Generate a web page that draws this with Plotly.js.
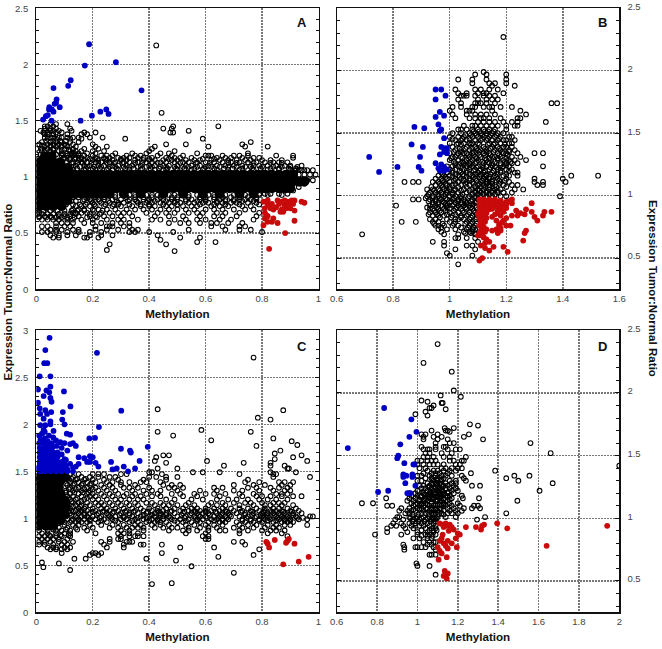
<!DOCTYPE html>
<html><head><meta charset="utf-8"><script src="https://cdn.plot.ly/plotly-3.0.1.min.js"></script>
<style>html,body{margin:0;padding:0;background:#fff}</style></head><body><div id="g" style="width:662px;height:649px"></div>
<script>
// Saturated, overplotted regions read as rows: [y,[x...]]
const aCore=[[.74,[.012,.035,.06,.09]],[.79,[.012,.035,.06,.085,.11]],
[.85,[.01,.035,.06,.085,.11,.135,.16,.185,.21,.235,.26,.31,.37,.45,.52,.59,.65,.72,.77]],
[.9,[.01,.035,.06,.085,.11,.135,.16,.185,.21,.235,.26,.285,.31,.335,.36,.385,.41,.435,.46,.485,.51,.535,.56,.585,.61,.635,.66,.685,.71,.735,.76,.785,.81,.835,.86,.885,.9]],
[.96,[.01,.035,.06,.085,.11,.135,.16,.185,.21,.235,.26,.285,.31,.335,.36,.385,.41,.435,.46,.485,.51,.535,.56,.585,.61,.635,.66,.685,.71,.735,.76,.785,.81,.835,.86,.885,.91,.935,.95]],
[1.02,[.01,.035,.06,.085,.11,.135,.16,.185,.21,.235,.26,.285,.31,.335,.36,.385,.41,.435,.46,.485,.51,.535,.56,.585,.61,.635,.66,.685,.71,.735,.76,.785,.81,.835,.86,.885,.91]],
[1.08,[.01,.035,.06,.085,.11]],[1.13,[.01,.035,.06,.085]],[1.18,[.03,.055]]];
const aOpen=[[2.17,[.425]],[1.57,[.444]],[1.47,[.05,.07,.11]],[1.45,[.03,.04,.06,.485,.645]],[1.43,[.03,.05,.07,.12,.45,.48]],[1.41,[.015,.03,.05,.06,.08,.125,.54]],[1.395,[.025,.04,.07,.09,.17,.21,.475,.485]],[1.38,[.03,.045,.06,.11,.16,.18]],[1.35,[.03,.05,.06,.08,.09,.11,.13,.15,.19,.235]],[1.34,[.04,.07,.12,.16,.315,.59]],[1.31,[.02,.05,.07,.09,.12,.15,.76]],[1.29,[.01,.04,.06,.08,.1,.13,.2,.46,.53,.73]],[1.27,[.03,.05,.07,.09,.11,.14,.21,.25,.42,.61,.74,.82]],[1.25,[.0,.02,.04,.06,.1,.13,.17,.22,.41]],[1.23,[.02,.05,.08,.12,.14,.16,.2,.24,.4,.49]],[1.21,[.06,.09,.11,.13,.15,.18,.21,.28,.34,.39,.44,.47,.57,.75]],[1.19,[.09,.11,.13,.15,.17,.2,.23,.25,.27,.32,.35,.37,.43,.48,.52,.6,.61,.62,.66,.7,.72,.75,.85,.91]],[1.17,[.1,.12,.14,.16,.18,.21,.24,.26,.29,.31,.33,.36,.38,.41,.46,.49,.51,.55,.64,.67,.69,.73,.77,.79,.91]],[1.15,[.12,.15,.17,.2,.22,.25,.27,.3,.32,.35,.38,.4,.42,.45,.48,.5,.53,.56,.58,.62,.65,.68,.71,.74,.76,.8,.83,.87]],[1.13,[.13,.16,.18,.21,.23,.26,.28,.31,.33,.36,.39,.41,.44,.46,.49,.52,.54,.57,.6,.63,.66,.69,.72,.75,.78,.81,.84,.86,.89]],[1.1,[.14,.17,.19,.22,.24,.27,.29,.32,.34,.37,.4,.42,.45,.47,.5,.53,.55,.58,.61,.64,.67,.7,.73,.77,.79,.82,.85,.88,.9,.94]],[1.06,[.92,.94,.95,.96,.98]],[1.02,[.93,.95,.97,.99]],[.97,[.96,.98]],[.94,[.93,.95]],[.91,[.9,.93]],[.88,[.88,.91]],[.85,[.79,.81,.83,.86,.89]],[.8,[.17,.19,.22,.24,.27,.3,.33,.35,.38,.4,.43,.45,.48,.5,.53,.55,.58,.6,.63,.65,.67,.7,.72,.74,.76,.78]],[.77,[.18,.2,.23,.26,.29,.31,.36,.39,.41,.44,.47,.49,.51,.54,.56,.59,.61,.64,.66,.69,.71,.75,.78]],[.74,[.14,.16,.19,.21,.24,.27,.3,.34,.37,.4,.42,.46,.48,.52,.55,.57,.62,.65,.68,.73,.76]],[.71,[.13,.15,.17,.2,.22,.25,.28,.32,.35,.38,.41,.44,.47,.5,.53,.56,.6,.63,.66,.7,.74,.77]],[.68,[.01,.13,.14,.16,.18,.23,.26,.29,.31,.33,.39,.43,.46,.49,.54,.57,.59,.64,.67,.72,.79]],[.65,[.01,.03,.05,.08,.1,.12,.15,.19,.21,.24,.27,.3,.34,.42,.47,.52,.58,.63,.66,.71,.78]],[.62,[.02,.04,.06,.08,.11,.13,.16,.2,.25,.29,.31,.36,.41,.44,.49,.53,.57,.6,.65,.69,.77]],[.59,[.07,.09,.11,.13,.17,.2,.23,.27,.3,.33,.47,.51,.54,.58,.62,.64,.68,.73]],[.56,[.02,.04,.07,.1,.12,.21,.25,.26,.27,.31,.33,.62,.66,.72,.74]],[.53,[.05,.07,.09,.13,.15,.21,.25,.29,.34,.36,.54,.67,.72,.76]],[.51,[.02,.04,.07,.11,.15,.19,.23,.33,.35,.4,.485,.8]],[.48,[.05,.08,.11,.14,.19,.23,.27,.43]],[.46,[.06,.08,.17,.18,.22,.51,.58]],[.44,[.44]],[.42,[.57,.635]],[.4,[.26,.46]],[.35,[.25]],[.34,[.49]]];
const aExtra=[[1.32,[.035,.06,.085,.105]],[1.28,[.02,.05,.075,.105]],[1.24,[.03,.06,.09,.115,.13]],[1.2,[0,.015,.045,.07,.095,.12,.14]],[1.16,[.005,.095,.12,.135,.155,.19,.215,.245,.3,.4,.47,.59,.63]],[1.125,[.105,.125,.145,.165,.195,.22,.25,.275,.305,.35,.375,.43,.51,.565,.615,.68,.71,.77,.83,.87]],[1.09,[.13,.155,.18,.205,.23,.26,.28,.31,.33,.36,.39,.41,.44,.46,.49,.52,.54,.57,.6,.62,.65,.68,.71,.74,.76,.8,.84,.87,.9,.925]],[1.075,[.12,.145,.175,.2,.225,.255,.285,.315,.345,.375,.405,.435,.465,.495,.525,.56,.595,.63,.665,.695,.73,.765,.795,.83,.86,.895,.92]],[1.065,[.13,.17,.21,.25,.29,.33,.37,.42,.46,.5,.55,.59,.64,.68,.72,.77,.82,.86,.9,.93]],[.84,[.28,.33,.35,.39,.41,.43,.47,.49,.54,.57,.61,.63,.67,.7,.74,.79,.82,.87]],[.82,[.13,.15,.18,.21,.24,.28,.32,.35,.38,.41,.44,.48,.5,.54,.58,.6,.63,.66,.69,.72,.75,.78]],[.785,[.125,.14,.165,.195,.225,.255,.285,.325,.355,.395,.42,.46,.49,.53,.57,.6,.64,.67,.7,.73,.77]],[.755,[.105,.13,.155,.175,.205,.245,.275,.29,.33,.37,.4,.45,.5,.58,.63,.67,.72,.79]],[.7,[.005,.025,.05,.075,.1,.125,.145,.17,.205,.235]],[.67,[.005,.02,.04,.06,.08,.1,.12,.14,.19,.225]],[.64,[.01,.035,.055,.07,.09,.11,.135,.18,.215]]];
const aBlue=[[.024,1.51],[.034,1.54],[.041,1.55],[.046,1.62],[.045,1.6],[.055,1.6],[.061,1.58],[.054,1.5],[.065,1.65],[.072,1.69],[.07,1.66],[.061,1.79],[.083,1.62],[.113,1.81],[.122,1.86],[.172,1.99],[.187,2.18],[.157,1.5],[.197,1.545],[.227,1.58],[.248,1.6],[.256,1.56],[.282,2.02],[.373,1.77]];
const aRed=[[.805,.57],[.81,.63],[.815,.66],[.82,.6],[.825,.36],[.882,.5],[.84,.63],[.835,.6],[.855,.59],[.81,.72],[.82,.75],[.805,.78],[.82,.79],[.835,.76],[.84,.71],[.85,.73],[.855,.79],[.86,.76],[.87,.71],[.875,.69],[.88,.75],[.885,.72],[.89,.78],[.895,.75],[.9,.72],[.905,.79],[.91,.76],[.915,.7],[.915,.79],[.915,.61],[.94,.78],[.95,.77],[.87,.78],[.88,.79],[.83,.72],[.865,.69],[.82,.65],[.81,.68]];

const bOpen=[[2.27,[1.19]],[1.99,[1.12]],[1.97,[1.09,1.13,1.2]],[1.93,[1.03,1.08,1.13,1.2]],[1.9,[1.08,1.14,1.16,1.2]],[1.88,[1.15,1.23]],[1.85,[1.02,1.09,1.11,1.14,1.17]],[1.82,[1.03,1.06,1.1,1.12,1.13,1.19]],[1.8,[1.04,1.05,1.06,1.09,1.12,1.14,1.16]],[1.77,[1.03,1.1,1.13,1.15,1.17]],[1.74,[1.04,1.09,1.1,1.11,1.13,1.16,1.36,1.38]],[1.71,[1.01,1.04,1.08,1.09,1.12,1.14,1.15,1.18,1.22]],[1.68,[1,1.06,1.07,1.08,1.15,1.25]],[1.65,[1.01,1.06,1.09,1.11,1.13,1.16,1.27]],[1.62,[1.02,1.07,1.09,1.11,1.12,1.14,1.18,1.24,1.25]],[1.59,[1.1,1.12,1.14,1.16,1.19,1.22,1.24,1.34]],[1.56,[1.05,1.08,1.09,1.11,1.13,1.15,1.17,1.2,1.23,1.24]],[1.53,[1.03,1.04,1.06,1.08,1.1,1.12,1.14,1.16,1.2]],[1.5,[1.01,1.04,1.07,1.09,1.11,1.13,1.15,1.17,1.19]],[1.47,[1,1.03,1.05,1.08,1.1,1.12,1.14,1.16,1.18,1.21,1.22]],[1.445,[1.02,1.04,1.06,1.09,1.11,1.13,1.15,1.17,1.19,1.2,1.23]],[1.42,[1,1.03,1.05,1.07,1.08,1.1,1.14,1.16,1.18,1.21,1.22]],[1.39,[1.01,1.06,1.09,1.12,1.15,1.17,1.19,1.2,1.22]],[1.365,[1.02,1.04,1.07,1.1,1.11,1.13,1.16,1.18,1.21,1.23]],[1.34,[1,1.03,1.05,1.06,1.08,1.12,1.14,1.17,1.19,1.2,1.24,1.3,1.33]],[1.31,[1.01,1.02,1.04,1.07,1.09,1.11,1.15,1.16,1.18,1.22,1.25]],[1.285,[1,1.03,1.06,1.08,1.1,1.13,1.17,1.19,1.21,1.23,1.27]],[1.26,[1.02,1.04,1.05,1.07,1.09,1.12,1.14,1.15,1.18,1.2,1.22,1.24]],[1.235,[.99,1.01,1.03,1.06,1.08,1.1,1.13,1.16,1.19,1.21,1.33]],[1.21,[.98,1,1.02,1.05,1.07,1.09,1.11,1.14,1.17,1.2,1.22]],[1.185,[.97,.99,1.01,1.04,1.06,1.1,1.12,1.15,1.18,1.23,1.24]],[1.16,[.96,.98,1,1.03,1.05,1.08,1.11,1.13,1.16,1.19,1.21,1.24,1.43,1.525]],[1.135,[.95,.97,.99,1.02,1.04,1.07,1.09,1.12,1.14,1.17,1.2,1.3,1.4]],[1.11,[.84,.87,.89,.94,.96,.98,1,1.03,1.06,1.08,1.11,1.13,1.15,1.18,1.21,1.3,1.33,1.41]],[1.085,[.95,.97,.99,1.01,1.04,1.07,1.1,1.12,1.14,1.16,1.19,1.22,1.24,1.31,1.33]],[1.05,[.92,.94,.96,.98,1,1.02,1.05,1.08,1.1,1.12,1.14,1.16,1.18,1.23,1.26]],[1.025,[.93,.95,.97,.99,1.01,1.03,1.06,1.09,1.11,1.13,1.15,1.17,1.19,1.22]],[.995,[.92,.94,.96,.98,1,1.02,1.04,1.07,1.09,1.11,1.13,1.15,1.18,1.2,1.39]],[.97,[.87,.89,.93,.95,.97,.99,1.01,1.03,1.05,1.08,1.1]],[.945,[.94,.96,.98,1,1.02,1.04,1.06,1.09]],[.92,[.81,.93,.95,.97,.99,1.01,1.03,1.05,1.07,1.09]],[.895,[.93,.94,.96,.98,1,1.02,1.04,1.06,1.08]],[.865,[.93,.95,.97,1,1.03,1.05,1.07,1.09]],[.84,[.94,.96,.98,1.01,1.04,1.06,1.08]],[.81,[.93,.95,.99,1.02,1.03,1.05,1.07,1.09]],[.79,[.83,.88,.94,.96,1,1.02,1.06,1.08]],[.76,[.95,.96,.98,1.01,1.03,1.07,1.09]],[.73,[.96,.99,1.02,1.06,1.08,1.09]],[.71,[.97,1.05,1.07,1.08]],[.69,[.69,.98,1.03,1.09]],[.66,[1.02,1.03,1.06,1.09]],[.63,[.94,.98,1.1]],[.6,[.98,1.06,1.08]],[.57,[1.02,1.09]],[.54,[.99]],[.52,[1,1.08]],[.45,[1.03]]];
const bExtra=[[1.515,[1.085,1.105,1.125,1.135,1.155]],[1.485,[1.055,1.075,1.095,1.115,1.145,1.165]],[1.455,[1.01,1.045,1.07,1.115,1.135,1.175]],[1.41,[1.025,1.04,1.075,1.105,1.135,1.155,1.195]],[1.375,[1.035,1.055,1.08,1.095,1.125,1.145,1.175]],[1.35,[1.015,1.04,1.085,1.105,1.13,1.155,1.185,1.21]],[1.325,[1.025,1.065,1.085,1.105,1.125,1.145,1.175,1.205]],[1.3,[1.005,1.045,1.065,1.095,1.125,1.14,1.17,1.2]],[1.27,[1.015,1.045,1.075,1.095,1.115,1.135,1.16,1.195,1.215]],[1.245,[1.02,1.05,1.07,1.115,1.15,1.18,1.2]],[1.225,[1.04,1.075,1.095,1.12,1.145,1.165,1.185]],[1.2,[1.01,1.035,1.06,1.085,1.105,1.125,1.155,1.18,1.21]],[1.17,[.975,1.02,1.045,1.07,1.09,1.11,1.13,1.145,1.17,1.2]],[1.15,[.985,1.01,1.035,1.06,1.085,1.105,1.125,1.14,1.165]],[1.12,[.975,1.015,1.05,1.07,1.095,1.115,1.13,1.15,1.175,1.195]],[1.095,[.965,.985,1.02,1.055,1.085,1.105,1.13,1.15,1.175]],[1.07,[.935,.975,1,1.03,1.06,1.09,1.11,1.125,1.14,1.165,1.2]],[1.04,[.945,.965,.99,1.015,1.04,1.07,1.09,1.105,1.13,1.15,1.17]],[1.01,[.925,.96,.985,1.01,1.045,1.08,1.1,1.12,1.14,1.16]],[.98,[.915,.94,.965,.985,1.015,1.04,1.065,1.09]],[.955,[.925,.95,.975,1.005,1.03,1.055,1.075,1.095]],[.93,[.94,.96,.985,1.015,1.04,1.06,1.08]],[.905,[.92,.955,.99,1.025,1.055,1.075,1.095]],[.88,[.945,.965,.985,1.015,1.045,1.085]],[.85,[.925,.955,.99,1.02,1.065,1.095]],[.825,[.965,1.005,1.04,1.075,1.095]],[.775,[.945,.975,1.015,1.055,1.075,1.095]],[.745,[.97,1.04,1.065,1.085]],[.7,[1.055,1.075,1.09]]];
const bBlue=[[.95,1.85],[.97,1.85],[.985,1.8],[.95,1.77],[.965,1.67],[.95,1.63],[.98,1.64],[.96,1.57],[.965,1.52],[.97,1.53],[.875,1.55],[.91,1.54],[.98,1.46],[.865,1.41],[.905,1.39],[.97,1.39],[.98,1.38],[.99,1.38],[.965,1.33],[.98,1.35],[.99,1.34],[.715,1.31],[.895,1.31],[.95,1.26],[.97,1.25],[.98,1.23],[.96,1.22],[.99,1.21],[.815,1.23],[.89,1.23],[.9,1.2],[.75,1.19],[.965,1.2],[.98,1.2]];
const bRed=[[1.105,.97],[1.12,.97],[1.14,.97],[1.16,.97],[1.18,.96],[1.2,.95],[1.22,.97],[1.105,.94],[1.12,.94],[1.14,.95],[1.16,.94],[1.18,.92],[1.2,.93],[1.22,.94],[1.105,.91],[1.12,.91],[1.14,.92],[1.16,.91],[1.18,.89],[1.2,.9],[1.105,.88],[1.12,.88],[1.14,.89],[1.17,.86],[1.19,.87],[1.1,.85],[1.115,.85],[1.13,.86],[1.18,.84],[1.2,.82],[1.105,.82],[1.12,.82],[1.15,.83],[1.165,.8],[1.19,.8],[1.215,.76],[1.11,.79],[1.125,.79],[1.175,.77],[1.2,.76],[1.105,.76],[1.12,.75],[1.165,.73],[1.18,.72],[1.11,.72],[1.125,.71],[1.15,.72],[1.17,.7],[1.1,.68],[1.115,.68],[1.13,.65],[1.125,.62],[1.14,.63],[1.11,.6],[1.125,.58],[1.14,.56],[1.155,.59],[1.19,.59],[1.205,.55],[1.115,.5],[1.105,.48],[1.22,.84],[1.235,.88],[1.24,.84],[1.25,.86],[1.265,.85],[1.27,.89],[1.29,.87],[1.29,.94],[1.3,.83],[1.31,.8],[1.33,.84],[1.335,.87],[1.36,.87],[1.27,.72],[1.265,.7],[1.26,.64],
[1.11,.955],[1.13,.955],[1.15,.955],[1.17,.945],[1.19,.935],[1.21,.955],[1.11,.925],[1.13,.935],[1.15,.93],[1.17,.915],[1.19,.91],[1.11,.895],[1.13,.9],[1.15,.895],[1.17,.88],[1.105,.865],[1.125,.87],[1.11,.835],[1.125,.84],[1.16,.85],[1.11,.805],[1.13,.82],[1.185,.785],[1.115,.775],[1.13,.73],[1.175,.755],[1.105,.7],[1.12,.665],[1.18,.74]];

const cCore=[[.92,[.01,.035,.06]],[.98,[.01,.035,.06,.085]],[1.05,[.01,.035,.06,.085,.1]],[1.12,[.01,.035,.06,.085,.105]],[1.19,[.01,.035,.06,.085,.1]],[1.26,[.01,.035,.06,.085]],[1.33,[.01,.035,.06,.08]],[1.4,[.01,.035,.06,.085]],[1.44,[.01,.035,.06,.085,.1]]];
const cOpen=[[2.71,[.77]],[2.16,[.43]],[2.15,[.875]],[2.07,[.785]],[2.05,[.83]],[1.94,[.585]],[1.92,[.43,.76]],[1.88,[.485]],[1.85,[.84]],[1.83,[.62]],[1.82,[.905]],[1.78,[.925]],[1.77,[.78]],[1.72,[.865]],[1.69,[.845]],[1.67,[.47,.45,.94]],[1.65,[.425,.91]],[1.63,[.845]],[1.61,[.42,.605,.96]],[1.59,[.735,.46,.83]],[1.56,[.665,.83,.88]],[1.53,[.5,.43,.89,.895]],[1.49,[.555,.59,.65,.83,.92,.4,.41]],[1.47,[.12,.15,.2,.22,.24,.3,.32,.445,.72,.85,.84]],[1.44,[.11,.13,.16,.19,.22,.26,.28,.4,.425,.46,.5,.97,.84]],[1.41,[.115,.14,.17,.2,.24,.29,.38,.46,.75]],[1.385,[.12,.15,.18,.21,.25,.27,.3,.33,.37,.39,.44,.74,.79,.86,.88,.91]],[1.355,[.11,.13,.16,.19,.23,.26,.3,.35,.45,.48,.51,.7,.77,.81,.87,.9]],[1.325,[.12,.15,.18,.21,.24,.27,.31,.33,.36,.4,.47,.49,.52,.63,.66,.75,.78,.83,.86,.89]],[1.295,[.105,.13,.16,.19,.22,.25,.28,.34,.38,.41,.44,.5,.58,.64,.7,.73,.79,.84,.88,.9]],[1.26,[.12,.15,.18,.2,.23,.26,.29,.32,.35,.39,.43,.48,.51,.56,.6,.63,.67,.72,.77,.85,.87,.89]],[1.235,[.11,.13,.16,.19,.21,.24,.27,.31,.34,.37,.41,.44,.52,.57,.65,.73,.78,.8,.83,.87,.91,.94]],[1.2,[.12,.14,.17,.2,.22,.25,.28,.3,.33,.36,.38,.46,.49,.55,.59,.64,.68,.71,.75,.79,.82,.85,.89]],[1.165,[.11,.13,.15,.18,.21,.23,.26,.29,.32,.35,.39,.41,.44,.48,.54,.62,.66,.7,.74,.76,.8,.84,.86,.88]],[1.14,[.14,.16,.19,.22,.24,.27,.3,.33,.36,.42,.45,.47,.5,.53,.56,.61,.64,.67,.72,.77,.81,.83,.87,.91]],[1.105,[.12,.15,.17,.2,.23,.25,.28,.31,.34,.37,.4,.43,.46,.49,.52,.55,.57,.6,.63,.66,.69,.72,.75,.78,.81,.84,.86,.89,.92]],[1.08,[.115,.14,.16,.18,.21,.24,.26,.29,.32,.35,.38,.41,.43,.45,.48,.51,.54,.56,.58,.6,.62,.65,.67,.7,.73,.76,.79,.81,.83,.85,.87,.9,.93]],[1.055,[.12,.15,.17,.19,.22,.25,.27,.3,.33,.36,.39,.42,.44,.46,.49,.52,.55,.57,.59,.61,.64,.66,.68,.71,.74,.77,.8,.82,.84,.86,.88,.91,.94]],[1.02,[.105,.14,.16,.18,.2,.23,.26,.28,.31,.34,.37,.4,.42,.45,.47,.5,.53,.56,.58,.6,.63,.65,.67,.69,.72,.75,.78,.8,.82,.85,.87,.89,.92,.97,.98]],[.99,[.11,.13,.15,.17,.19,.21,.24,.27,.3,.32,.35,.38,.41,.43,.45,.48,.51,.54,.57,.59,.62,.64,.66,.68,.73,.76,.79,.81,.83,.86,.88,.9,.93,.96]],[.96,[.1,.12,.14,.16,.18,.22,.25,.29,.33,.36,.39,.42,.44,.46,.5,.52,.55,.58,.61,.65,.67,.71,.74,.77,.8,.84,.87,.89,.91]],[.93,[.1,.13,.15,.19,.23,.27,.31,.35,.37,.41,.44,.47,.53,.56,.6,.63,.66,.72,.75,.78,.82,.85,.88,.9,.96]],[.9,[.08,.11,.14,.17,.2,.26,.29,.32,.34,.36,.38,.42,.45,.48,.5,.54,.58,.61,.64,.7,.73,.77,.81,.84,.86]],[.87,[.01,.04,.07,.09,.12,.18,.3,.33,.38,.47,.52,.54,.57,.61,.65,.67,.72,.75,.8,.83,.85,.88]],[.84,[.02,.04,.07,.1,.12,.21,.29,.31,.33,.36,.53,.6,.72,.82,.87]],[.81,[.01,.03,.05,.07,.09,.12,.3,.33,.35,.36,.38,.59,.61,.89]],[.78,[.02,.04,.06,.08,.11,.3,.29,.6,.61,.26]],[.75,[.01,.03,.05,.08,.1,.13,.23,.26,.32,.33,.34,.7,.73]],[.72,[.01,.03,.06,.09,.11,.31,.37,.38,.445,.74,.24]],[.69,[.04,.06,.07,.1,.12,.25,.31,.51,.63]],[.67,[.05,.07,.09,.11,.79]],[.63,[.09,.2,.21,.23,.445]],[.61,[.19,.22,.77]],[.59,[.645]],[.57,[.135,.175,.39]],[.55,[.495]],[.53,[.02]],[.52,[.08]],[.49,[.55]],[.48,[.025]],[.45,[.12]],[.42,[.7]],[.31,[.48]],[.3,[.41]]];
const cExtra=[[1.42,[.125,.145,.175]],[1.37,[.105,.135,.165,.195]],[1.31,[.115,.14,.17,.2]],[1.275,[.105,.135,.165,.185]],[1.215,[.115,.145,.18]],[1.18,[.125,.16]],[1.125,[.13,.155,.175]],[1.07,[.13,.155,.2,.235,.275,.315,.345,.395,.435,.475,.525,.565,.6,.635,.675,.725,.765,.805,.835,.875,.905]],[1.035,[.125,.17,.215,.255,.295,.33,.38,.41,.44,.46,.515,.545,.575,.615,.655,.685,.74,.765,.795,.815,.845,.865,.885,.91]],[1.005,[.145,.185,.225,.265,.31,.36,.39,.435,.475,.525,.565,.605,.645,.675,.745,.775,.805,.825,.855,.875,.895,.925,.945]],[.975,[.125,.15,.19,.23,.28,.34,.4,.43,.49,.53,.57,.63,.66,.73,.76,.79,.82,.85,.88,.9]],[.88,[.06,.105,.145]],[.82,[.045,.085,.115]]];
const cBlue=[[.047,2.92],[.032,2.79],[.028,2.65],[.039,2.65],[.012,2.51],[.05,2.51],[.215,2.76],[.006,2.37],[.05,2.4],[.098,2.35],[.026,2.3],[.036,2.36],[.046,2.34],[.05,2.28],[.054,2.24],[.006,2.23],[.012,2.17],[.121,2.19],[.094,2.13],[.053,2.13],[.301,2.145],[.014,2.11],[.032,2.15],[.038,2.11],[.026,2.06],[.05,2.03],[.092,2.05],[.1,2],[.014,1.99],[.222,1.97],[.032,1.99],[.05,2],[.061,1.93],[.026,1.94],[.108,1.9],[.12,1.89],[.188,1.85],[.208,1.855],[.13,1.8],[.14,1.77],[.12,1.79],[.1,1.8],[.09,1.75],[.11,1.72],[.3,1.74],[.332,1.72],[.335,1.7],[.395,1.76],[.366,1.61],[.15,1.65],[.17,1.64],[.19,1.66],[.2,1.65],[.19,1.6],[.21,1.59],[.22,1.55],[.265,1.6],[.27,1.52],[.285,1.53],[.31,1.55],[.35,1.53],[.325,1.5],[.14,1.55],[.15,1.58],[.18,1.6],[.13,1.5],[.12,1.58],[.13,1.54],[.01,1.88],[.02,1.9],[.03,1.92],[.015,1.84],[.03,1.85],[.045,1.88],[.06,1.86],[.01,1.8],[.025,1.8],[.04,1.82],[.055,1.8],[.07,1.83],[.085,1.81],[.012,1.75],[.027,1.76],[.042,1.77],[.058,1.76],[.072,1.77],[.012,1.7],[.027,1.71],[.042,1.72],[.058,1.71],[.075,1.7],[.09,1.68],[.012,1.65],[.027,1.66],[.042,1.67],[.058,1.66],[.075,1.65],[.1,1.63],[.012,1.6],[.027,1.61],[.042,1.62],[.058,1.61],[.075,1.6],[.09,1.6],[.105,1.62],[.012,1.56],[.027,1.56],[.042,1.57],[.058,1.56],[.075,1.56],[.09,1.56],[.105,1.56],[.003,1.53],[.018,1.52],[.034,1.52],[.05,1.52],[.065,1.52],[.08,1.52],[.095,1.52],[.11,1.52],
[.02,1.63],[.035,1.64],[.05,1.645],[.066,1.63],[.02,1.58],[.035,1.585],[.05,1.59],[.066,1.585],[.02,1.68],[.035,1.69],[.05,1.695],[.066,1.68],[.02,1.73],[.035,1.74],[.05,1.745],[.02,1.54],[.035,1.545],[.05,1.54],[.066,1.54],[.082,1.58],[.082,1.54],[.098,1.58],[.012,1.5],[.03,1.5],[.05,1.5],[.07,1.5],[.09,1.5],[.11,1.5]];
const cRed=[[.815,.75],[.82,.73],[.825,.69],[.845,.77],[.885,.74],[.89,.76],[.895,.78],[.915,.73],[.875,.51],[.93,.54],[.965,.59]];

const dOpen=[[2.39,[1.1]],[2.24,[1.03]],[2.17,[1.17]],[2.02,[1.18]],[1.98,[1.115]],[1.97,[1.215]],[1.94,[1.02]],[1.93,[1.05]],[1.92,[1.12,1.125]],[1.9,[1.08]],[1.88,[1.06,1.07]],[1.87,[1.14]],[1.85,[1.04]],[1.83,[.99]],[1.82,[1.05]],[1.75,[1.26]],[1.74,[1.3]],[1.72,[1.135,1.18]],[1.7,[1.07,1.14,1.15]],[1.69,[1.16]],[1.67,[1.02,1.04,1.255,1.1]],[1.65,[1.03,1.23,1.12,1.08]],[1.63,[1.325,1.03,1.1,1.15]],[1.6,[1.56,1.09,1.16,1.18]],[1.57,[1.02,1.09,1.13,1.14]],[1.55,[1.03,1.05,1.06,1.09,1.15,1.19,1.21]],[1.52,[1.04,1.06,1.66,1.12,1.17]],[1.49,[1.03,1.05,1.08,1.13,1.16,1.24]],[1.46,[1,1.02,1.05,1.07,1.09,1.16,1.18,1.22,1.23]],[1.43,[1,1.03,1.06,1.08,1.1,1.13,1.19,1.21]],[1.42,[2]],[1.4,[1.01,1.04,1.12,1.14,1.17,1.2,1.22]],[1.38,[1.385,1.05,1.08,1.1,1.13,1.16,1.19]],[1.36,[1.265,1.03,1.07,1.09,1.11,1.15]],[1.34,[1,1.02,1.06,1.09,1.12,1.14,1.17,1.48,1.555,1.22]],[1.32,[1.04,1.07,1.1,1.13,1.23,1.44]],[1.3,[1,1.02,1.08,1.1,1.12,1.16,1.19,1.24,1.5]],[1.28,[1.05,1.07,1.09,1.11,1.14,1.17,1.19,1.67]],[1.26,[1.01,1.03,1.06,1.1,1.13,1.15,1.18,1.27,1.31]],[1.24,[1.02,1.04,1.07,1.09,1.11,1.14,1.16,1.19]],[1.22,[1,1.05,1.08,1.1,1.12,1.17,1.605,1.2]],[1.2,[.96,.99,1.03,1.06,1.09,1.11,1.13,1.15,1.18]],[1.18,[.97,1,1.02,1.05,1.07,1.1,1.12,1.14,1.16,1.22]],[1.16,[.845,.96,.99,1.04,1.06,1.08,1.11,1.13,1.17,1.225,1.305]],[1.14,[.95,.98,1.01,1.03,1.05,1.09,1.1,1.12,1.15,1.495]],[1.12,[.725,.78,.97,1,1.02,1.04,1.07,1.13,1.16,1.2]],[1.1,[.85,.875,.98,1.01,1.03,1.06,1.08,1.1,1.12,1.14,1.17,1.21,1.28,1.3]],[1.08,[.92,.96,1,1.02,1.05,1.07,1.09,1.11,1.15,1.18,1.23,1.27,1.31]],[1.06,[.91,.95,.97,.99,1.03,1.06,1.08,1.1,1.13,1.16,1.19,1.22]],[1.04,[.94,.96,1.02,1.04,1.07,1.09,1.12,1.15,1.17,1.2,1.44]],[1.01,[.9,.91,.96,.98,1,1.03,1.06,1.08,1.1,1.14,1.19,1.335]],[.99,[.89,.93,.98,1.01,1.04,1.07,1.09,1.295]],[.96,[.88,.92,.96,.99,1.02,1.05,1.08]],[.94,[.87,.895,.93,.97,.99,1.01,1.03,1.06,1.09]],[.92,[.85,.94,.98,1.04,1.07,1.09]],[.89,[.85,.95,1,1.05,1.08]],[.87,[.79,.92,1,1.04,1.06,1.09]],[.84,[.98,1.01,1.05,1.07]],[.81,[1.03,1.06,1.08,1.09]],[.79,[.93,1.05,1.07]],[.77,[.935,.99,1,1.02,1.04,1.08]],[.75,[.935,1.09]],[.71,[1.06,1.07,1.09]],[.64,[.995]],[.62,[1,1.06]],[.55,[1.09]]];
const dExtra=[[1.31,[1.075,1.095,1.115]],[1.27,[1.075,1.095,1.12]],[1.25,[1.055,1.085,1.105,1.125]],[1.21,[1.025,1.065,1.085,1.105,1.125,1.155]],[1.19,[1.035,1.06,1.085,1.11,1.13]],[1.17,[1.015,1.055,1.075,1.095,1.115,1.15]],[1.15,[1.01,1.035,1.075,1.095,1.13,1.16]],[1.11,[.99,1.02,1.05,1.09,1.11,1.13]],[1.07,[.98,1.01,1.045,1.07,1.09,1.115]],[1.03,[.975,1.005,1.055,1.08,1.105,1.13]],[1,[.965,.995,1.02,1.05,1.075,1.095]],[.975,[.975,1.005,1.035,1.065,1.09]],[.905,[1.02,1.06,1.08,1.095]],[.86,[1.02,1.05,1.075]]];
const dBlue=[[.655,1.56],[.835,1.88],[.97,1.79],[.995,1.69],[.96,1.65],[.915,1.59],[.905,1.5],[.9,1.48],[.935,1.44],[.98,1.43],[.985,1.43],[.93,1.35],[.945,1.34],[.975,1.35],[.93,1.33],[.975,1.33],[.94,1.28],[.99,1.26],[.95,1.2],[.965,1.2],[.805,1.21],[.855,1.22]];
const dRed=[[1.11,.96],[1.125,.95],[1.13,.93],[1.14,.96],[1.15,.94],[1.16,.95],[1.17,.93],[1.155,.9],[1.18,.91],[1.2,.88],[1.21,.87],[1.19,.84],[1.125,.87],[1.12,.84],[1.11,.82],[1.13,.8],[1.15,.82],[1.17,.8],[1.195,.77],[1.1,.77],[1.11,.74],[1.12,.72],[1.105,.67],[1.14,.78],[1.15,.76],[1.145,.69],[1.135,.58],[1.15,.56],[1.13,.54],[1.145,.52],[1.24,.93],[1.29,.93],[1.315,.91],[1.32,.94],[1.33,.95],[1.395,.96],[1.445,.92],[1.64,.78],[1.94,.94]];

const letters=["A","B","C","D"];
const axisTitle="Methylation", sideTitle="Expression Tumor:Normal Ratio";
const W=662,H=649;
const boxes=[[36.3,318.5,8.3,289.3],[336.7,619.3,8.3,289.3],[36.3,318.5,330.3,612.3],[336.7,619.3,330.3,612.3]];
const ranges=[[[0,1],[0,2.5],.2],[[.6,1.6],[.25,2.5],.2],[[0,1],[0,3],.2],[[.6,2],[.25,2.5],.2]];
const sets=[[aOpen.concat(aExtra),aCore,aBlue,aRed],[bOpen.concat(bExtra),[],bBlue,bRed],[cOpen.concat(cExtra),cCore,cBlue,cRed],[dOpen.concat(dExtra),[],dBlue,dRed]];
const unrow=r=>r.flatMap(([y,xs])=>xs.map(x=>[x,y]));
const traces=[],layout={width:W,height:H,margin:{l:0,r:0,t:0,b:0},paper_bgcolor:"#fff",plot_bgcolor:"#fff",showlegend:false,annotations:[],font:{family:"Liberation Sans"}};
const blue="#0000c4",red="#c80a0a";
sets.forEach(([op,core,bl,rd],i)=>{
 const s=i?String(i+1):"",b=boxes[i],r=ranges[i],right=i%2==1;
 const add=(pts,marker)=>traces.push({type:"scatter",mode:"markers",xaxis:"x"+s,yaxis:"y"+s,x:pts.map(p=>p[0]),y:pts.map(p=>p[1]),marker,cliponaxis:true,hoverinfo:"skip"});
 add(unrow(op),{symbol:"circle-open",size:4.7,color:"#000",line:{width:1.1,color:"#000"}});
 if(core.length)add(unrow(core),{symbol:"circle",size:10,color:"#000"});
 add(bl,{symbol:"circle",size:5.8,color:blue});
 add(rd,{symbol:"circle",size:5.8,color:red});
 const gridc="#777777",dash="2px,1px";
 layout["xaxis"+s]={domain:[b[0]/W,b[1]/W],range:r[0],anchor:"y"+s,dtick:r[2],tick0:0,showgrid:true,gridcolor:gridc,gridwidth:1.5,griddash:dash,zeroline:false,showline:true,linecolor:"#111",linewidth:1.2,mirror:true,ticks:"",tickfont:{size:9.5,color:"#444"},title:{text:axisTitle,font:{size:11.6,color:"#111",family:"Liberation Sans",weight:"bold"},standoff:7}};
 layout["yaxis"+s]={domain:[1-b[3]/H,1-b[2]/H],range:r[1],anchor:"x"+s,side:right?"right":"left",dtick:.5,tick0:0,showgrid:true,gridcolor:gridc,gridwidth:1.5,griddash:dash,zeroline:false,showline:true,linecolor:"#111",linewidth:1.2,mirror:"ticks",ticks:"inside",ticklen:4,tickcolor:"#111",minor:{dtick:.1,ticks:"inside",ticklen:3,tickcolor:"#111",showgrid:false},tickfont:{size:9.5,color:"#444"},ticklabelstandoff:5,ticklabelshift:right?-2:0};
 layout.annotations.push({xref:"paper",yref:"paper",x:(b[1]-16.5)/W,y:1-(i<2?22:346)/H,xanchor:"center",yanchor:"middle",text:"<b>"+letters[i]+"</b>",showarrow:false,font:{size:13,color:"#111"}});
});
layout.annotations.push({xref:"paper",yref:"paper",x:7.5/W,y:1-292/H,xanchor:"center",yanchor:"middle",text:"<b>"+sideTitle+"</b>",textangle:-90,showarrow:false,font:{size:11.6,color:"#111"}});
layout.annotations.push({xref:"paper",yref:"paper",x:654/W,y:1-288/H,xanchor:"center",yanchor:"middle",text:"<b>"+sideTitle+"</b>",textangle:90,showarrow:false,font:{size:11.6,color:"#111"}});
Plotly.newPlot("g",traces,layout,{displayModeBar:false,staticPlot:true});
</script></body></html>
